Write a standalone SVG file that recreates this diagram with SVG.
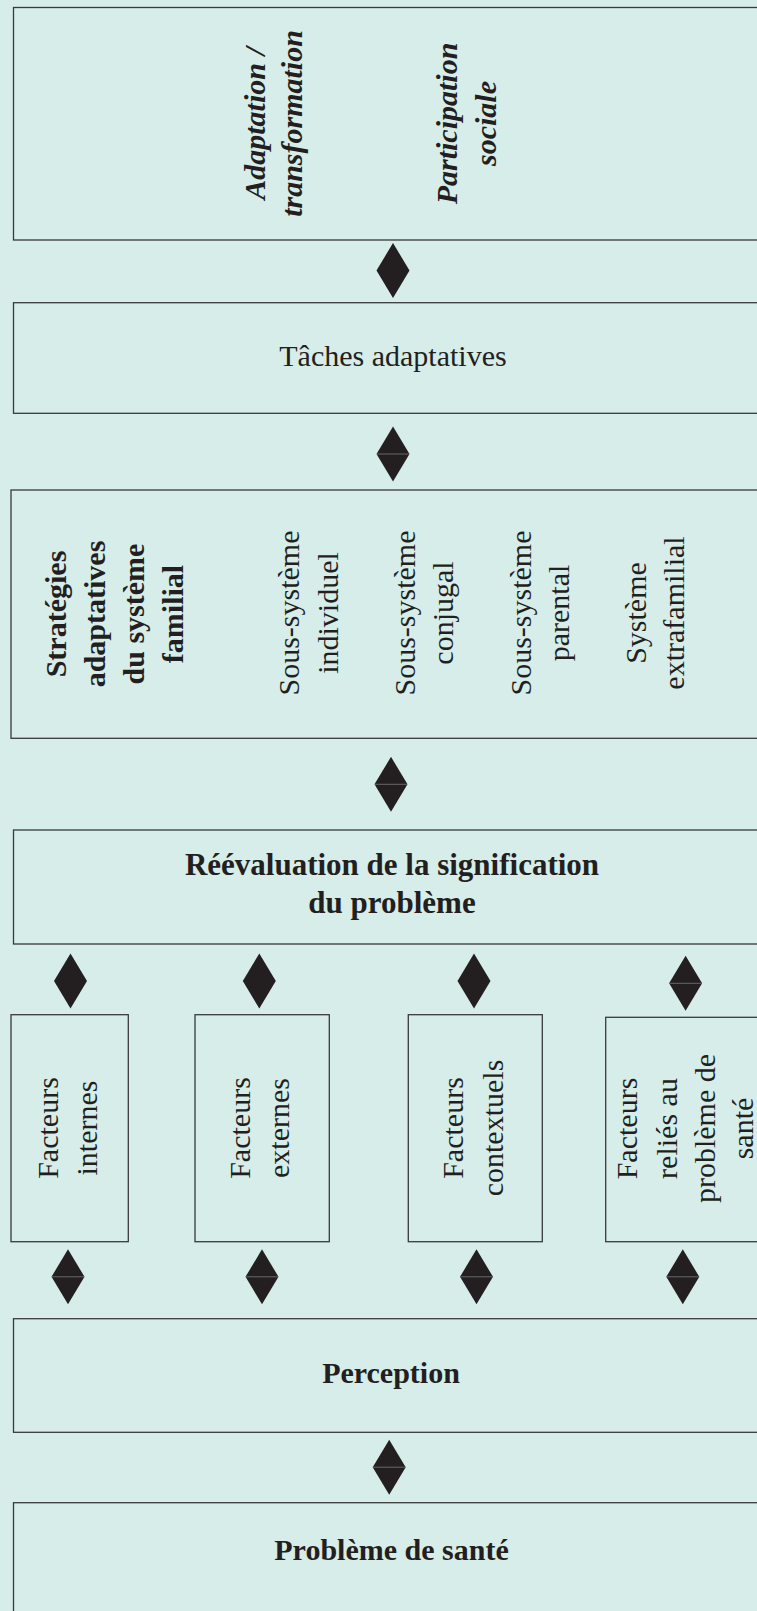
<svg xmlns="http://www.w3.org/2000/svg" xmlns:xlink="http://www.w3.org/1999/xlink" width="757" height="1611" viewBox="0 0 757 1611">
<style>
.bg{fill:#d6ede9}
.box{fill:#d6ede9;stroke:#3a3a3a;stroke-width:1.3}
.t{font-family:"Liberation Serif","Times New Roman",serif;font-size:30px;fill:#231f20;text-anchor:middle}
.b{font-weight:bold}
.bi{font-weight:bold;font-style:italic}
.h{font-size:31px}
</style>
<defs>
<g id="dia"><path d="M0,-27.5 L16.5,0 L0,27.5 L-16.5,0 Z" fill="#231f20"/></g>
<g id="dia2"><path d="M0,-27.5 L16.5,0 L0,27.5 L-16.5,0 Z" fill="#231f20"/><line x1="-16" y1="0" x2="16" y2="0" stroke="#7a7a7a" stroke-width="0.8"/></g>
</defs>
<rect class="bg" x="0" y="0" width="757" height="1611"/>

<g id="connectors">
<use xlink:href="#dia" x="393" y="270.5"/>
<use xlink:href="#dia2" x="393" y="454"/>
<use xlink:href="#dia2" x="391" y="784.3"/>
<use xlink:href="#dia" x="70.5" y="981"/>
<use xlink:href="#dia" x="259.3" y="981"/>
<use xlink:href="#dia" x="474" y="981"/>
<use xlink:href="#dia2" x="685.6" y="983.3"/>
<use xlink:href="#dia2" x="68" y="1276.8"/>
<use xlink:href="#dia2" x="262" y="1276.8"/>
<use xlink:href="#dia2" x="476.5" y="1276.8"/>
<use xlink:href="#dia2" x="682.8" y="1276.8"/>
<use xlink:href="#dia2" x="389.2" y="1467.2"/>
</g>

<g id="adaptation">
<rect class="box" x="13.5" y="7.5" width="800" height="232.5"/>
<text class="t bi" transform="translate(265,123.5) rotate(-90)">Adaptation /</text>
<text class="t bi" transform="translate(301.7,123.5) rotate(-90)">transformation</text>
<text class="t bi" transform="translate(456.7,123.5) rotate(-90)">Participation</text>
<text class="t bi" transform="translate(495.5,123.5) rotate(-90)">sociale</text>
</g>

<g id="taches">
<rect class="box" x="13.5" y="302.7" width="800" height="110.6"/>
<text class="t" x="393" y="366">Tâches adaptatives</text>
</g>

<g id="strategies">
<rect class="box" x="11" y="490" width="800" height="248.3"/>
<text class="t b" transform="translate(65.7,614) rotate(-90)">Stratégies</text>
<text class="t b" transform="translate(104.9,614) rotate(-90)">adaptatives</text>
<text class="t b" transform="translate(144.1,614) rotate(-90)">du système</text>
<text class="t b" transform="translate(183.3,614) rotate(-90)">familial</text>
<text class="t" transform="translate(299,613) rotate(-90)">Sous-système</text>
<text class="t" transform="translate(337.7,613) rotate(-90)">individuel</text>
<text class="t" transform="translate(415,613) rotate(-90)">Sous-système</text>
<text class="t" transform="translate(452.7,613) rotate(-90)">conjugal</text>
<text class="t" transform="translate(530.5,613) rotate(-90)">Sous-système</text>
<text class="t" transform="translate(569,613) rotate(-90)">parental</text>
<text class="t" transform="translate(645.7,613) rotate(-90)">Système</text>
<text class="t" transform="translate(684,613) rotate(-90)">extrafamilial</text>
</g>

<g id="reevaluation">
<rect class="box" x="13.5" y="830" width="800" height="114"/>
<text class="t b h" x="392" y="875">Réévaluation de la signification</text>
<text class="t b h" x="392" y="913">du problème</text>
</g>

<g id="facteurs-internes">
<rect class="box" x="11" y="1014.7" width="117.3" height="227"/>
<text class="t" transform="translate(58.3,1128) rotate(-90)">Facteurs</text>
<text class="t" transform="translate(96.7,1128) rotate(-90)">internes</text>
</g>

<g id="facteurs-externes">
<rect class="box" x="195" y="1014.7" width="134.3" height="227"/>
<text class="t" transform="translate(250,1128) rotate(-90)">Facteurs</text>
<text class="t" transform="translate(289.3,1128) rotate(-90)">externes</text>
</g>

<g id="facteurs-contextuels">
<rect class="box" x="408.3" y="1014.7" width="134" height="227"/>
<text class="t" transform="translate(463.3,1128) rotate(-90)">Facteurs</text>
<text class="t" transform="translate(503,1128) rotate(-90)">contextuels</text>
</g>

<g id="facteurs-sante">
<rect class="box" x="605.7" y="1017.3" width="200" height="224.4"/>
<text class="t" transform="translate(637.3,1128.5) rotate(-90)">Facteurs</text>
<text class="t" transform="translate(676.7,1128.5) rotate(-90)">reliés au</text>
<text class="t" transform="translate(715.3,1128.5) rotate(-90)">problème de</text>
<text class="t" transform="translate(753,1128.5) rotate(-90)">santé</text>
</g>

<g id="perception">
<rect class="box" x="13.5" y="1318.7" width="800" height="113.6"/>
<text class="t b" x="391" y="1383.3">Perception</text>
</g>

<g id="probleme-sante">
<rect class="box" x="13.5" y="1502.7" width="800" height="200"/>
<text class="t b" x="391.5" y="1560">Problème de santé</text>
</g>
</svg>
